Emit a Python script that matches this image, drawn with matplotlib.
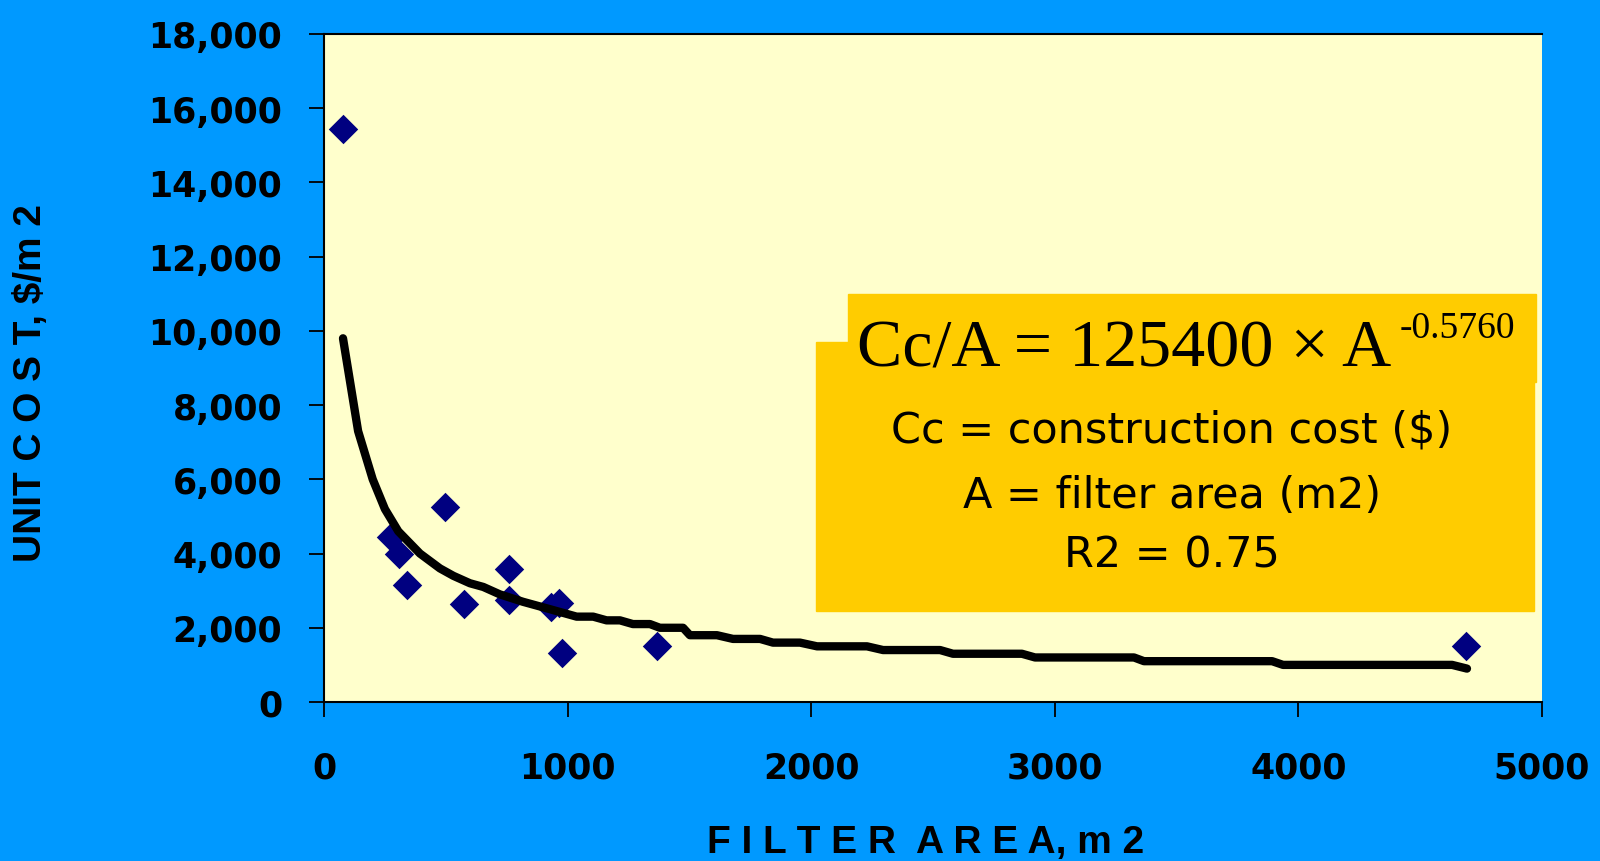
import matplotlib.pyplot as plt
from matplotlib.patches import Rectangle
from matplotlib.ticker import FuncFormatter

# measured filters: area (m2) vs unit construction cost ($/m2)
area = [78, 275, 309, 342, 497, 575, 761, 761, 932, 963, 978, 1366, 4688]
unit_cost = [15450, 4440, 3990, 3160, 5250, 2640, 3580, 2760, 2550, 2660, 1320, 1510, 1510]

# fitted curve as drawn (vertices)
fit_area = [78, 140, 200, 250, 305, 394, 476, 531, 599, 654, 722, 817, 928,
            1037, 1105, 1160, 1215, 1268, 1338, 1379, 1474, 1502, 1613, 1679,
            1790, 1843, 1954, 2024, 2229, 2295, 2529, 2582, 2865, 2919, 3325,
            3366, 3892, 3937, 4631, 4692]
fit_cost = [9800, 7300, 6000, 5200, 4600, 4000, 3600, 3400, 3200, 3100, 2900,
            2700, 2500, 2300, 2300, 2200, 2200, 2100, 2100, 2000, 2000, 1800,
            1800, 1700, 1700, 1600, 1600, 1500, 1500, 1400, 1400, 1300, 1300,
            1200, 1200, 1100, 1100, 1000, 1000, 900]

x_ticks = [0, 1000, 2000, 3000, 4000, 5000]
y_ticks = list(range(0, 18001, 2000))

eq_main = "Cc/A = 125400 \u00d7 A"
eq_exp = "-0.5760"
notes = ["Cc = construction cost ($)", "A = filter area (m2)", "R2 = 0.75"]

W, H = 1600, 862
BLUE = "#0099FF"
PAPER = "#FFFFCC"
GOLD = "#FFCC00"


def fx(px):
    return px / W


def fy(py):
    return 1 - py / H


fig = plt.figure(figsize=(16, 8.62), dpi=100, facecolor=BLUE)
ax = fig.add_axes([fx(324), fy(703), fx(1542) - fx(324), fy(35) - fy(703)])
ax.set_facecolor(PAPER)

ax.scatter(area, unit_cost, marker="D", s=15 ** 2, color="#000080", zorder=3,
           linewidths=0)
ax.plot(fit_area, fit_cost, color="black", lw=6, solid_capstyle="round",
        solid_joinstyle="round", zorder=4)

ax.set_xlim(0, 5000)
ax.set_ylim(0, 18000)
ax.set_xticks(x_ticks)
ax.set_yticks(y_ticks)
ax.yaxis.set_major_formatter(FuncFormatter(lambda v, p: f"{int(v):,}"))

ax.tick_params(axis="both", direction="out", length=11, width=1.3,
               color="black", labelsize=25, labelcolor="black")
ax.tick_params(axis="y", pad=19)
ax.tick_params(axis="x", pad=24)
for lab in ax.get_xticklabels() + ax.get_yticklabels():
    lab.set_fontweight("bold")
    lab.set_family("DejaVu Sans")

for side in ["left", "bottom", "top"]:
    ax.spines[side].set_color("black")
    ax.spines[side].set_linewidth(1.5)
ax.spines["right"].set_visible(False)

# equation box (two overlapping panels)
fig.patches.append(Rectangle((fx(816), fy(612)), fx(1534) - fx(816), fy(343) - fy(612),
                             transform=fig.transFigure, color=GOLD, zorder=5))
fig.patches.append(Rectangle((fx(848), fy(383)), fx(1536) - fx(848), fy(295) - fy(383),
                             transform=fig.transFigure, color=GOLD, zorder=5))

fig.text(fx(857), fy(367), eq_main, family="Liberation Serif", fontsize=49,
         ha="left", va="baseline", zorder=6)
fig.text(fx(1400), fy(338), eq_exp, family="Liberation Serif", fontsize=27,
         ha="left", va="baseline", zorder=6)
for txt, base in zip(notes, [443, 508, 568]):
    fig.text(fx(1172), fy(base), txt, family="DejaVu Sans", fontsize=31,
             ha="center", va="baseline", zorder=6)

fig.text(fx(31), fy(383), "UNIT C O S T, $/m 2", family="Liberation Sans",
         fontweight="bold", fontsize=28, rotation=90, ha="center", va="center")
fig.text(fx(926), fy(843), "F I L T E R  A R E A, m 2", family="Liberation Sans",
         fontweight="bold", fontsize=28, ha="center", va="center")

fig.savefig("out.png", dpi=100, facecolor=BLUE)
